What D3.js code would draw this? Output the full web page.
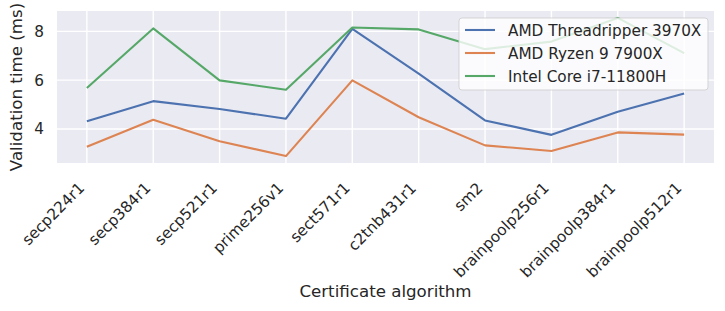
<!DOCTYPE html>
<meta charset="utf-8">
<body style="margin:0;background:#fff">
<div class="chart"></div>
<script src="https://d3js.org/d3.v7.min.js"></script>
<script>
    const categories = ["secp224r1", "secp384r1", "secp521r1", "prime256v1", "sect571r1",
        "c2tnb431r1", "sm2", "brainpoolp256r1", "brainpoolp384r1", "brainpoolp512r1"];
    const seriesNames = ["AMD Threadripper 3970X", "AMD Ryzen 9 7900X", "Intel Core i7-11800H"];
    const threadripper = [4.32, 5.14, 4.82, 4.42, 8.10, 6.27, 4.35, 3.76, 4.71, 5.45];
    const ryzen = [3.27, 4.38, 3.50, 2.89, 5.99, 4.48, 3.33, 3.10, 3.86, 3.77];
    const intel = [5.68, 8.12, 5.99, 5.61, 8.16, 8.08, 7.27, 7.58, 8.55, 7.11];
    const yTicks = [4, 6, 8];
    const colors = ["#4c72b0", "#dd8452", "#55a868"];

    let width = 725, height = 311;
    let margin = {top: 11, right: 11, bottom: 148, left: 57};
    let plotW = width - margin.left - margin.right;
    let plotH = height - margin.top - margin.bottom;
    let font = "DejaVu Sans, sans-serif";
    let ink = "#262626";

    let series = [threadripper, ryzen, intel].map((v, i) => ({name: seriesNames[i], values: v, color: colors[i]}));

    let svg = d3.select(".chart").append("svg")
        .attr("width", width)
        .attr("height", height)
        .style("font-family", font);

    let g = svg.append("g").attr("transform", `translate(${margin.left},${margin.top})`);

    // matplotlib style 5% margins
    let idx = d3.range(categories.length);
    let xPad = (categories.length - 1) * 0.05;
    let x = d3.scaleLinear().domain([-xPad, categories.length - 1 + xPad]).range([0, plotW]);
    let all = [].concat(threadripper, ryzen, intel);
    let lo = d3.min(all), hi = d3.max(all), yPad = (hi - lo) * 0.05;
    let y = d3.scaleLinear().domain([lo - yPad, hi + yPad]).range([plotH, 0]);

    g.append("rect").attr("width", plotW).attr("height", plotH).attr("fill", "#eaeaf2");

    // grid
    g.append("g").selectAll("line").data(idx).join("line")
        .attr("x1", d => x(d)).attr("x2", d => x(d))
        .attr("y1", 0).attr("y2", plotH)
        .attr("stroke", "#fff").attr("stroke-width", 1.4);
    g.append("g").selectAll("line").data(yTicks).join("line")
        .attr("y1", d => y(d)).attr("y2", d => y(d))
        .attr("x1", 0).attr("x2", plotW)
        .attr("stroke", "#fff").attr("stroke-width", 1.4);

    // axes
    let xAxis = d3.axisBottom(x).tickValues(idx).tickSize(0).tickFormat(d => categories[d]);
    let xg = g.append("g").attr("transform", `translate(0,${plotH})`).call(xAxis);
    xg.select(".domain").remove();
    xg.selectAll("text")
        .attr("fill", ink)
        .style("font-size", "15.28px")
        .style("font-family", font)
        .attr("text-anchor", "end")
        .attr("y", 0).attr("dy", 0)
        .attr("transform", "translate(-2,26) rotate(-45)");

    let yAxis = d3.axisLeft(y).tickValues(yTicks).tickSize(0).tickPadding(13).tickFormat(d3.format("d"));
    let yg = g.append("g").call(yAxis);
    yg.select(".domain").remove();
    yg.selectAll("text")
        .attr("fill", ink)
        .style("font-size", "15.28px")
        .style("font-family", font);

    // lines
    let line = d3.line().x((d, i) => x(i)).y(d => y(d));
    g.append("g").selectAll("path").data(series).join("path")
        .attr("fill", "none")
        .attr("stroke", d => d.color)
        .attr("stroke-width", 2.1)
        .attr("stroke-linejoin", "round")
        .attr("d", d => line(d.values));

    // axis labels
    svg.append("text")
        .attr("transform", `translate(22,${margin.top + plotH / 2}) rotate(-90)`)
        .attr("text-anchor", "middle")
        .attr("fill", ink)
        .style("font-size", "16.67px")
        .text("Validation time (ms)");
    svg.append("text")
        .attr("x", margin.left + plotW / 2)
        .attr("y", 297)
        .attr("text-anchor", "middle")
        .attr("fill", ink)
        .style("font-size", "16.67px")
        .text("Certificate algorithm");

    // legend
    let leg = svg.append("g").attr("transform", "translate(459,18)");
    leg.append("rect")
        .attr("width", 249).attr("height", 72)
        .attr("rx", 3)
        .attr("fill", "#fff").attr("fill-opacity", 0.8)
        .attr("stroke", "#ccc").attr("stroke-opacity", 0.8);
    let rows = leg.selectAll("g.row").data(series).join("g")
        .attr("class", "row")
        .attr("transform", (d, i) => `translate(0,${12 + i * 23})`);
    rows.append("line")
        .attr("x1", 6).attr("x2", 36)
        .attr("stroke", d => d.color).attr("stroke-width", 2.1);
    rows.append("text")
        .attr("x", 49).attr("dy", "0.36em")
        .attr("fill", ink)
        .style("font-size", "15.28px")
        .text(d => d.name);
</script>
